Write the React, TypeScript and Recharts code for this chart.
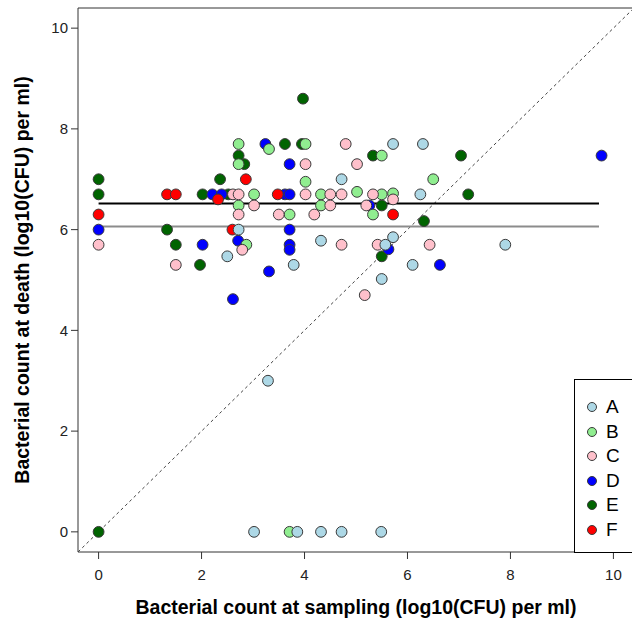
import React from 'react';
import { ScatterChart, Scatter, XAxis, YAxis, ReferenceLine, ReferenceArea } from 'recharts';

// ---- data: [sampling count, death count] in log10(CFU) per ml ----
const groupA: number[][] = [
  [3.02, 0], [3.86, 0], [4.32, 0], [4.72, 0], [5.49, 0], [3.29, 3.0], [2.5, 5.47], [2.72, 6.0],
  [3.79, 5.3], [4.32, 5.78], [4.72, 7.0], [5.72, 7.7], [6.3, 7.7], [6.25, 6.7], [5.57, 5.7],
  [5.72, 5.85], [6.1, 5.3], [5.5, 5.02], [7.9, 5.7],
];
const groupB: number[][] = [
  [3.71, 0], [2.72, 7.7], [2.72, 7.3], [3.31, 7.6], [4.02, 7.7], [3.02, 6.7], [2.72, 6.48],
  [2.87, 5.7], [4.02, 6.95], [4.32, 6.7], [5.02, 6.75], [5.5, 6.7], [5.72, 6.72], [4.32, 6.48],
  [3.71, 6.3], [5.33, 6.3], [5.5, 7.47], [6.5, 7.0],
];
const groupC: number[][] = [
  [0, 5.7], [1.5, 5.3], [2.61, 6.7], [2.72, 6.7], [2.72, 6.3], [3.02, 6.48], [2.79, 5.6], [3.5, 6.3],
  [4.02, 6.7], [4.5, 6.7], [4.72, 6.7], [5.33, 6.7], [4.02, 7.3], [4.8, 7.7], [5.02, 7.3], [4.5, 6.48],
  [5.2, 6.48], [5.72, 6.6], [4.19, 6.3], [4.72, 5.7], [5.42, 5.7], [6.43, 5.7], [5.17, 4.7],
];
const groupD: number[][] = [
  [0, 6.0], [2.02, 5.7], [2.21, 6.7], [2.39, 6.7], [2.71, 5.78], [2.61, 4.62], [3.24, 7.7], [3.31, 5.17],
  [3.62, 6.7], [3.71, 6.7], [3.71, 7.3], [3.71, 6.0], [3.71, 5.7], [3.71, 5.6], [5.26, 6.48],
  [5.63, 5.61], [6.63, 5.3], [9.77, 7.47],
];
const groupE: number[][] = [
  [0, 0], [0, 7.0], [0, 6.7], [1.33, 6.0], [1.5, 5.7], [1.97, 5.3], [2.02, 6.7], [2.36, 7.0], [2.52, 6.7],
  [2.72, 7.47], [2.83, 7.3], [3.62, 7.7], [3.95, 7.7], [3.97, 8.6], [5.33, 7.47], [5.5, 6.48],
  [5.5, 5.47], [6.32, 6.17], [7.04, 7.47], [7.18, 6.7],
];
const groupF: number[][] = [
  [0, 6.3], [1.33, 6.7], [1.5, 6.7], [2.32, 6.6], [2.86, 7.0], [2.6, 6.0], [3.48, 6.7], [5.72, 6.3],
];

const groupNames = ['A', 'B', 'C', 'D', 'E', 'F'];
const groupColors = ['#ADD8E6', '#90EE90', '#FFC0CB', '#0000FF', '#006400', '#FF0000'];
const groupData = [groupA, groupB, groupC, groupD, groupE, groupF];
const drawOrder = [4, 3, 5, 1, 2, 0]; // E, D, F, B, C, A

const xTicks = [0, 2, 4, 6, 8, 10];
const yTicks = [0, 2, 4, 6, 8, 10];
const axisMin = -0.4;
const axisMax = 10.4;

const fitLineBlackY = 6.52;
const fitLineGrayY = 6.06;
const fitLineX = [0, 9.72];

const xTitle = 'Bacterial count at sampling (log10(CFU) per ml)';
const yTitle = 'Bacterial count at death (log10(CFU) per ml)';

const FONT = '"Liberation Sans", Arial, Helvetica, sans-serif';

const toPoints = (arr: number[][]) => arr.map(([x, y]) => ({ x, y }));

export default function App() {
  const W = 640;
  const H = 619;
  return (
    <div style={{ position: 'absolute', left: 0, top: 0, width: 632, height: 619, overflow: 'hidden', background: '#fff' }}>
      <ScatterChart width={W} height={H} margin={{ top: 8, right: 6, bottom: 17, left: 8 }}>
        <XAxis
          type="number"
          dataKey="x"
          domain={[axisMin, axisMax]}
          ticks={xTicks}
          interval={0}
          allowDataOverflow
          axisLine={false}
          tickLine={{ stroke: '#333' }}
          tickSize={7}
          tickMargin={10}
          height={50}
          tick={{ fontSize: 15, fill: '#222', fontFamily: FONT }}
        />
        <YAxis
          type="number"
          dataKey="y"
          domain={[axisMin, axisMax]}
          ticks={yTicks}
          interval={0}
          allowDataOverflow
          axisLine={false}
          tickLine={{ stroke: '#333' }}
          tickSize={7}
          tickMargin={3}
          width={70}
          tick={{ fontSize: 15, fill: '#222', fontFamily: FONT }}
        />
        <ReferenceArea
          x1={axisMin}
          x2={axisMax}
          y1={axisMin}
          y2={axisMax}
          fill="none"
          fillOpacity={0}
          stroke="#333"
          strokeWidth={1}
          ifOverflow="visible"
        />
        <ReferenceLine
          segment={[{ x: axisMin, y: axisMin }, { x: axisMax, y: axisMax }]}
          stroke="#444"
          strokeWidth={1}
          strokeDasharray="3 3"
          ifOverflow="visible"
        />
        <ReferenceLine
          segment={[{ x: fitLineX[0], y: fitLineGrayY }, { x: fitLineX[1], y: fitLineGrayY }]}
          stroke="#8c8c8c"
          strokeWidth={2}
          ifOverflow="visible"
        />
        <ReferenceLine
          segment={[{ x: fitLineX[0], y: fitLineBlackY }, { x: fitLineX[1], y: fitLineBlackY }]}
          stroke="#000"
          strokeWidth={2}
          ifOverflow="visible"
        />
        {drawOrder.map((gi) => (
          <Scatter
            key={groupNames[gi]}
            name={groupNames[gi]}
            data={toPoints(groupData[gi])}
            isAnimationActive={false}
            shape={(p: any) => (
              <circle cx={p.cx} cy={p.cy} r={5.4} fill={groupColors[gi]} stroke="#3a3a3a" strokeWidth={1} />
            )}
          />
        ))}
      </ScatterChart>

      <div
        style={{
          position: 'absolute', left: 78, width: 556, top: 596, height: 22, lineHeight: '22px',
          textAlign: 'center', fontFamily: FONT, fontWeight: 'bold', fontSize: 19.5, color: '#000',
          whiteSpace: 'nowrap',
        }}
      >
        {xTitle}
      </div>
      <div
        style={{
          position: 'absolute', left: 22 - 272, width: 544, top: 269, height: 22, lineHeight: '22px',
          textAlign: 'center', fontFamily: FONT, fontWeight: 'bold', fontSize: 19.5, color: '#000',
          whiteSpace: 'nowrap', transform: 'rotate(-90deg)',
        }}
      >
        {yTitle}
      </div>

      <div
        style={{
          position: 'absolute', left: 574, top: 379, width: 80, height: 174,
          border: '1px solid #000', boxSizing: 'border-box', background: '#fff',
        }}
      >
        {groupNames.map((n, i) => (
          <div key={n} style={{ position: 'absolute', left: 0, top: 27 + i * 24.6 - 10, height: 20, width: 70 }}>
            <svg width={30} height={20} style={{ position: 'absolute', left: 0, top: 0 }}>
              <circle cx={17} cy={10} r={4.5} fill={groupColors[i]} stroke="#3a3a3a" strokeWidth={1} />
            </svg>
            <span
              style={{
                position: 'absolute', left: 31, top: 0, lineHeight: '20px', fontSize: 19,
                fontFamily: FONT, color: '#000',
              }}
            >
              {n}
            </span>
          </div>
        ))}
      </div>
    </div>
  );
}
